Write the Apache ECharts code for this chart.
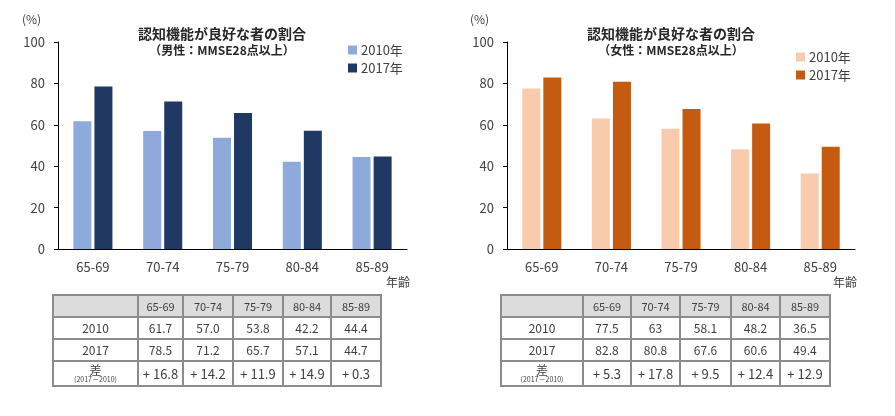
<!DOCTYPE html>
<html><head><meta charset="utf-8">
<script src="https://cdn.jsdelivr.net/npm/echarts@6/dist/echarts.min.js"></script>
<style>
html,body{margin:0;padding:0;background:#fff;}
#c{position:absolute;left:0;top:0;width:895px;height:416px;}
table.t{position:absolute;border-collapse:collapse;table-layout:fixed;font-family:"Noto Sans CJK JP","Noto Sans",sans-serif;color:#404040;}
table.t td{border:2px solid #8c8c8c;text-align:center;padding:0;font-size:12px;line-height:1;}
table.t tr.h td{background:#dcdcdc;font-size:11px;}
table.t td.dl{font-size:12px;line-height:1;vertical-align:top;padding-top:2px;}
table.t td.dl span{display:block;font-size:7px;margin-top:0px;}
table.t td.df{font-size:13px;}
</style>
</head><body>
<div id="c"></div>
<script>
var categories = ['65-69','70-74','75-79','80-84','85-89'];
var yearLabels = ['2010年','2017年'];
var male2010 = [61.7, 57.0, 53.8, 42.2, 44.4];
var male2017 = [78.5, 71.2, 65.7, 57.1, 44.7];
var maleDiff = [16.8, 14.2, 11.9, 14.9, 0.3];
var female2010 = [77.5, 63, 58.1, 48.2, 36.5];
var female2017 = [82.8, 80.8, 67.6, 60.6, 49.4];
var femaleDiff = [5.3, 17.8, 9.5, 12.4, 12.9];
var yTicks = [0, 20, 40, 60, 80, 100];
var titleMain = '認知機能が良好な者の割合';
var subMale = '（男性：MMSE28点以上）';
var subFemale = '（女性：MMSE28点以上）';

var FONT = '"Noto Sans CJK JP","Noto Sans",sans-serif';
var txt = '#404040';

function xAxis(gi){
  return {type:'category', gridIndex:gi, data:categories,
    axisLine:{lineStyle:{color:'#000',width:1}}, axisTick:{show:false},
    axisLabel:{color:txt, fontSize:13, margin:12, fontFamily:FONT}};
}
function yAxis(gi){
  return {type:'value', gridIndex:gi, min:yTicks[0], max:yTicks[yTicks.length-1], interval:20,
    splitLine:{show:false},
    axisLine:{show:true, lineStyle:{color:'#000',width:1}},
    axisTick:{show:true, length:4, lineStyle:{color:'#000'}},
    axisLabel:{color:txt, fontSize:13, margin:13, fontFamily:FONT}};
}
function bar(name, data, color, gi){
  return {type:'bar', name:name, xAxisIndex:gi, yAxisIndex:gi, data:data,
    barWidth:18, barGap:'17%', itemStyle:{color:color}, legendHoverLink:false};
}

var chart = echarts.init(document.getElementById('c'), null, {renderer:'canvas'});
chart.setOption({
  animation:false,
  textStyle:{fontFamily:FONT},
  grid:[
    {left:58, top:42, width:349, height:207},
    {left:507, top:42, width:348, height:207}
  ],
  xAxis:[xAxis(0), xAxis(1)],
  yAxis:[yAxis(0), yAxis(1)],
  title:[
    {text:titleMain, subtext:subMale, left:217, textAlign:'center', top:22, itemGap:3,
     textStyle:{fontSize:14, fontWeight:'bold', color:'#262626', fontFamily:FONT},
     subtextStyle:{fontSize:12, fontWeight:'bold', color:'#262626', fontFamily:FONT}},
    {text:titleMain, subtext:subFemale, left:666, textAlign:'center', top:22, itemGap:3,
     textStyle:{fontSize:14, fontWeight:'bold', color:'#262626', fontFamily:FONT},
     subtextStyle:{fontSize:12, fontWeight:'bold', color:'#262626', fontFamily:FONT}}
  ],
  legend:[
    {data:[{name:'m2010'},{name:'m2017'}], orient:'vertical', left:343, top:38, icon:'rect',
     itemWidth:9, itemHeight:9, itemGap:4, selectedMode:false,
     formatter:function(n){return n==='m2010'?yearLabels[0]:yearLabels[1];},
     textStyle:{fontSize:13, color:txt, lineHeight:14, padding:[0,0,0,-1]}},
    {data:[{name:'f2010'},{name:'f2017'}], orient:'vertical', left:791, top:45, icon:'rect',
     itemWidth:9, itemHeight:9, itemGap:4, selectedMode:false,
     formatter:function(n){return n==='f2010'?yearLabels[0]:yearLabels[1];},
     textStyle:{fontSize:13, color:txt, lineHeight:14, padding:[0,0,0,-1]}}
  ],
  series:[
    bar('m2010', male2010, '#8eaadb', 0),
    bar('m2017', male2017, '#203864', 0),
    bar('f2010', female2010, '#f8cbad', 1),
    bar('f2017', female2017, '#c55a11', 1)
  ],
  graphic:[
    {type:'text', left:22, top:13, style:{text:'(%)', fontSize:12, fill:txt, fontFamily:FONT}},
    {type:'text', left:470, top:13, style:{text:'(%)', fontSize:12, fill:txt, fontFamily:FONT}},
    {type:'text', left:386, top:276, style:{text:'年齢', fontSize:12, fill:txt, fontFamily:FONT}},
    {type:'text', left:833, top:276, style:{text:'年齢', fontSize:12, fill:txt, fontFamily:FONT}}
  ]
});

function fmt(v, dec){ return dec ? v.toFixed(1) : String(v); }
function buildTable(left, top, widths, a, b, d, dec){
  var t = document.createElement('table');
  t.className = 't';
  t.style.left = left + 'px'; t.style.top = top + 'px';
  var cg = '<colgroup>' + widths.map(function(w){return '<col style="width:'+w+'px">';}).join('') + '</colgroup>';
  var h = '<tr class="h" style="height:22px"><td></td>' + categories.map(function(c){return '<td>'+c+'</td>';}).join('') + '</tr>';
  var r1 = '<tr style="height:22px"><td>2010</td>' + a.map(function(v){return '<td>'+fmt(v,dec)+'</td>';}).join('') + '</tr>';
  var r2 = '<tr style="height:22px"><td>2017</td>' + b.map(function(v){return '<td>'+fmt(v,dec)+'</td>';}).join('') + '</tr>';
  var r3 = '<tr style="height:25px"><td class="dl">差<span>(2017－2010)</span></td>' + d.map(function(v){return '<td class="df">+ '+v.toFixed(1)+'</td>';}).join('') + '</tr>';
  t.innerHTML = cg + h + r1 + r2 + r3;
  document.body.appendChild(t);
}
buildTable(52, 294, [85,45,50,50,48,50], male2010, male2017, maleDiff, true);
buildTable(500, 294, [82,48,49,51,49,50], female2010, female2017, femaleDiff, false);
</script>
</body></html>
